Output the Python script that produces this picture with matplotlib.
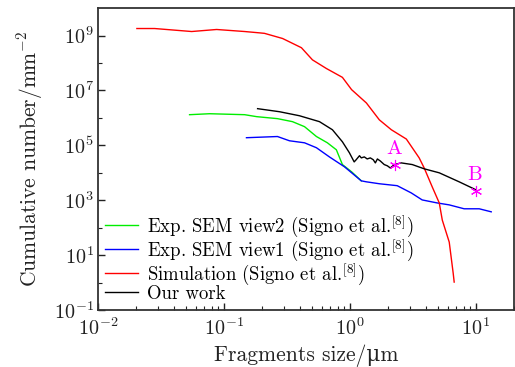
import numpy as np
import matplotlib
matplotlib.use("Agg")
import matplotlib.pyplot as plt
from matplotlib.ticker import FixedLocator, LogLocator, NullFormatter

plt.rcParams['font.family'] = ['cmr10', 'DejaVu Serif']
plt.rcParams['mathtext.fontset'] = 'cm'
plt.rcParams['axes.formatter.use_mathtext'] = True

# Simulation (Signo et al.)
sim_x = [0.0204, 0.0282, 0.0555, 0.0875, 0.146, 0.192, 0.21, 0.292, 0.412, 0.504,
         0.65, 0.871, 1.03, 1.35, 1.71, 2.13, 2.80, 3.54, 3.88, 4.49, 5.11, 5.40,
         6.13, 6.59, 6.71]
sim_y = [1.8e9, 1.8e9, 1.4e9, 1.66e9, 1.4e9, 1.25e9, 1.2e9, 7.8e8, 3.6e8, 1.3e8,
         6.3e7, 3.0e7, 1.07e7, 3.5e6, 8.5e5, 3.7e5, 1.7e5, 3.5e4, 1.5e4, 3.1e3,
         8.0e2, 1.9e2, 30, 2.2, 1.05]

# Exp. SEM view2
v2_x = [0.0534, 0.077, 0.146, 0.182, 0.266, 0.35, 0.436, 0.542, 0.662, 0.78,
        0.871, 1.03, 1.23]
v2_y = [1.31e6, 1.42e6, 1.31e6, 1.11e6, 9.4e5, 7.3e5, 4.8e5, 2.1e5, 1.24e5,
        6.9e4, 2.0e4, 1.09e4, 5.1e3]

# Exp. SEM view1
v1_x = [0.151, 0.266, 0.331, 0.436, 0.542, 0.687, 0.904, 1.23, 1.35, 1.71, 2.37,
        3.06, 3.74, 4.92, 6.13, 8.05, 10.6, 13.2]
v1_y = [1.9e5, 2.1e5, 1.47e5, 1.24e5, 8.2e4, 3.8e4, 1.66e4, 5.1e3, 4.7e3, 4.0e3,
        3.4e3, 1.86e3, 1.03e3, 8.0e2, 6.8e2, 4.9e2, 4.9e2, 3.8e2]

# Our work
our_x = [0.185, 0.276, 0.397, 0.573, 0.726, 0.871, 0.989, 1.08, 1.12, 1.19, 1.23,
         1.30, 1.37, 1.45, 1.53, 1.59, 1.65, 1.74, 1.87, 1.98, 2.09, 2.25, 2.55,
         3.12, 3.88, 5.11, 7.35, 10.0]
our_y = [2.17e6, 1.68e6, 1.2e6, 7.3e5, 3.7e5, 1.35e5, 5.4e4, 2.5e4, 3.0e4, 4.2e4,
         3.5e4, 3.8e4, 3.2e4, 3.5e4, 3.0e4, 2.3e4, 3.2e4, 2.7e4, 2.0e4, 1.8e4,
         1.5e4, 2.0e4, 2.3e4, 2.0e4, 1.4e4, 1.0e4, 4.7e3, 2.4e3]

# marked points
mark_labels = ['A', 'B']
mark_x = [2.28, 10.0]
mark_y = [2.0e4, 2.2e3]

fig = plt.figure(figsize=(5.15, 3.67), dpi=100)
ax = fig.add_axes([0.190, 0.155, 0.808, 0.823])

ax.plot(v2_x, v2_y, color='#00ee00', lw=1.0, label=r'Exp. SEM view2 (Signo et al.$^{[8]}$)')
ax.plot(v1_x, v1_y, color='#0000ff', lw=1.0, label=r'Exp. SEM view1 (Signo et al.$^{[8]}$)')
ax.plot(sim_x, sim_y, color='#ff0000', lw=1.0, label=r'Simulation (Signo et al.$^{[8]}$)')
ax.plot(our_x, our_y, color='black', lw=1.0, label='Our work')

# asterisk markers
ax.plot(mark_x, mark_y, ls='none', marker=(6, 2, 0), color='#ff00ff', ms=8, mew=0.8)
for lab, x, y in zip(mark_labels, mark_x, mark_y):
    ax.annotate(lab, (x, y), xytext=(-1, 5), textcoords='offset points',
                ha='center', va='bottom', color='#ff00ff', fontsize=15)

ax.set_xscale('log')
ax.set_yscale('log')
ax.set_xlim(1e-2, 2e1)
ax.set_ylim(1e-1, 1e10)

ax.yaxis.set_major_locator(FixedLocator([1e-1, 1e1, 1e3, 1e5, 1e7, 1e9]))
ax.yaxis.set_minor_locator(FixedLocator([1e0, 1e2, 1e4, 1e6, 1e8]))
ax.yaxis.set_minor_formatter(NullFormatter())
ax.xaxis.set_minor_locator(LogLocator(base=10, subs=np.arange(2, 10), numticks=20))
ax.xaxis.set_minor_formatter(NullFormatter())

ax.tick_params(which='both', direction='in', top=False, right=False, labelsize=14.5,
               colors='#222222', pad=3)
ax.tick_params(axis='x', which='major', pad=5)
ax.tick_params(which='major', length=5, width=1)
ax.tick_params(which='minor', length=3, width=0.8)
for s in ax.spines.values():
    s.set_linewidth(1.3)
    s.set_color('#333333')

ax.set_xlabel('Fragments size/μm', fontsize=15.5, color='#222222', labelpad=4)
ax.set_ylabel(r'Cumulative number/mm$^{-2}$', fontsize=15.5, color='#222222', labelpad=6)

ax.legend(loc='lower left', frameon=False, fontsize=13.5, handlelength=1.75,
          handletextpad=0.45, labelspacing=-0.1, borderaxespad=0.15,
          borderpad=0.25)

fig.savefig('out.png', dpi=100)
